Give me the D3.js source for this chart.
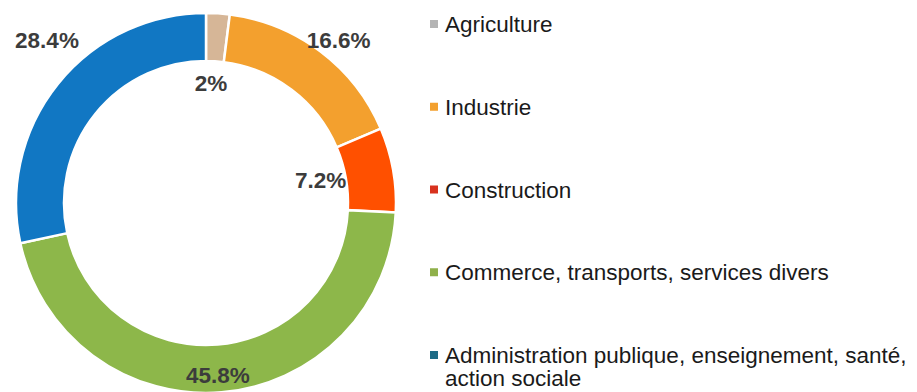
<!DOCTYPE html>
<html>
<head>
<meta charset="utf-8">
<script src="https://cdn.jsdelivr.net/npm/d3@7/dist/d3.min.js"></script>
<style>
  html, body { margin: 0; padding: 0; background: #ffffff; }
  svg { display: block; }
</style>
</head>
<body>
<svg id="chart" width="917" height="392"></svg>
<script>
// Répartition des emplois par secteur (%)
const categories = [
  "Agriculture",
  "Industrie",
  "Construction",
  "Commerce, transports, services divers",
  "Administration publique, enseignement, santé, action sociale"
];
const values = [2, 16.6, 7.2, 45.8, 28.4];
const valueLabels = ["2%", "16.6%", "7.2%", "45.8%", "28.4%"];
const legendLines = [
  ["Agriculture"],
  ["Industrie"],
  ["Construction"],
  ["Commerce, transports, services divers"],
  ["Administration publique, enseignement, santé,", "action sociale"]
];

const sliceColors = ["#d6b697", "#f3a02e", "#ff5000", "#8db74a", "#1177c3"];
const legendColors = ["#b4b4b4", "#f3a02e", "#d8321e", "#8fb04a", "#1d6b86"];

const svg = d3.select("#chart");
const cx = 206, cy = 203;
const outerR = 190, innerR = 142;

const pie = d3.pie().value(d => d).sort(null);
const arcs = pie(values);
const arc = d3.arc().innerRadius(innerR).outerRadius(outerR);

const g = svg.append("g").attr("transform", `translate(${cx},${cy})`);

g.selectAll("path.slice")
  .data(arcs)
  .join("path")
  .attr("class", "slice")
  .attr("d", arc)
  .attr("fill", (d, i) => sliceColors[i])
  .attr("stroke", "#ffffff")
  .attr("stroke-width", 2.5)
  .attr("stroke-linejoin", "miter");

// Label placement: distance from centre and angular nudge (degrees) per slice
const labelRadius = [120, 210, 117, 172, 228];
const labelNudge = [-1.2, 2.1, -1.2, 0.7, 6.9];

g.selectAll("text.value")
  .data(arcs)
  .join("text")
  .attr("class", "value")
  .attr("x", (d, i) => {
    const a = (d.startAngle + d.endAngle) / 2 + labelNudge[i] * Math.PI / 180;
    return Math.sin(a) * labelRadius[i];
  })
  .attr("y", (d, i) => {
    const a = (d.startAngle + d.endAngle) / 2 + labelNudge[i] * Math.PI / 180;
    return -Math.cos(a) * labelRadius[i];
  })
  .attr("dy", "0.36em")
  .attr("text-anchor", "middle")
  .attr("font-family", "Liberation Sans, Arial, sans-serif")
  .attr("font-weight", "bold")
  .attr("font-size", 22.5)
  .attr("fill", "#3c3c3c")
  .text((d, i) => valueLabels[i]);

// Legend
const legendY = d3.scalePoint().domain(categories).range([24, 355]);
const legend = svg.append("g");
const items = legend.selectAll("g.item")
  .data(categories)
  .join("g")
  .attr("class", "item")
  .attr("transform", d => `translate(430,${legendY(d)})`);

items.append("rect")
  .attr("x", 0)
  .attr("y", -4)
  .attr("width", 8)
  .attr("height", 8)
  .attr("fill", (d, i) => legendColors[i]);

items.append("text")
  .attr("x", 15)
  .attr("y", 0)
  .attr("font-family", "Liberation Sans, Arial, sans-serif")
  .attr("font-size", 22.5)
  .attr("fill", "#1a1a1a")
  .selectAll("tspan")
  .data((d, i) => legendLines[i])
  .join("tspan")
  .attr("x", 15)
  .attr("dy", (t, j) => j === 0 ? "0.36em" : "1.0em")
  .text(t => t);
</script>
</body>
</html>
